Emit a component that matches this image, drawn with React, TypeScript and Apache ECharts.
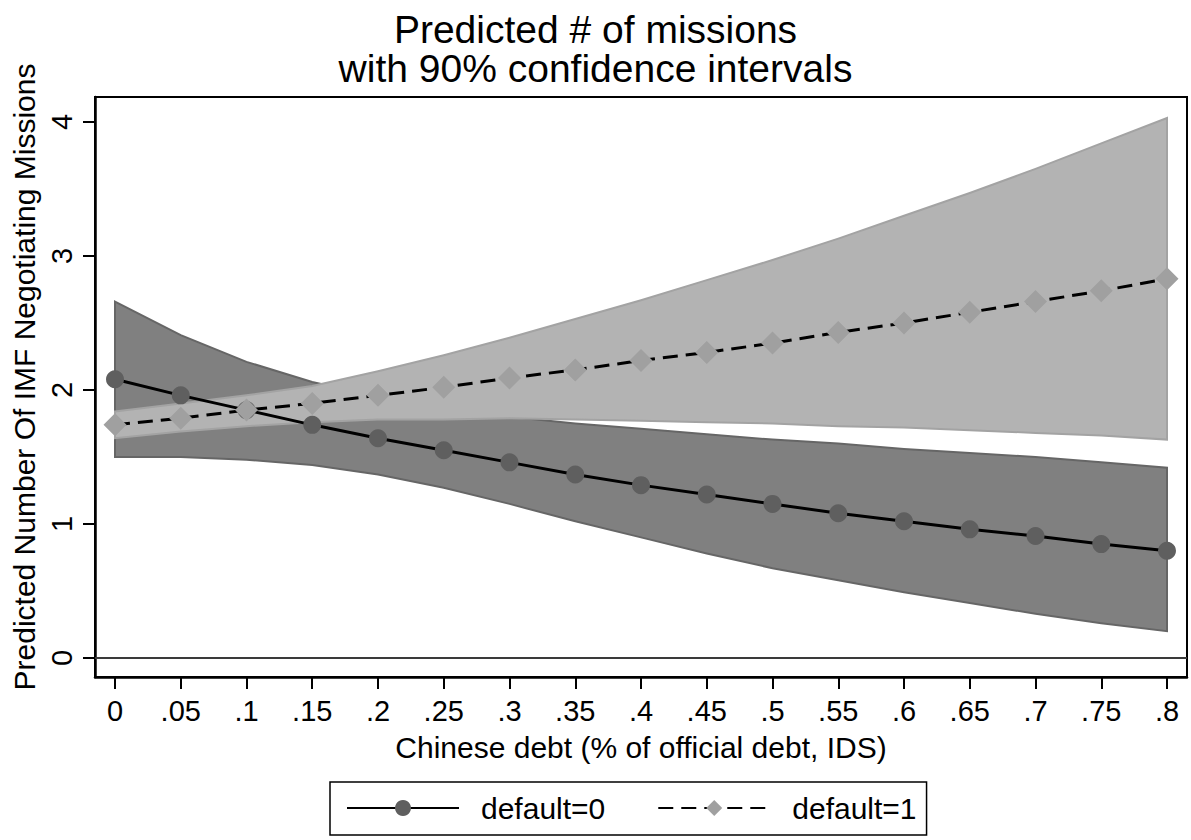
import React, { useEffect, useRef } from "react";
import * as echarts from "echarts";

// x values (share of Chinese debt in official debt)
const xValues = [0, 0.05, 0.1, 0.15, 0.2, 0.25, 0.3, 0.35, 0.4, 0.45, 0.5, 0.55, 0.6, 0.65, 0.7, 0.75, 0.8];

// default = 0
const pred0 = [2.08, 1.96, 1.85, 1.74, 1.64, 1.55, 1.46, 1.37, 1.29, 1.22, 1.15, 1.08, 1.02, 0.96, 0.91, 0.85, 0.8];
const upper0 = [2.66, 2.41, 2.21, 2.06, 1.95, 1.86, 1.8, 1.75, 1.71, 1.67, 1.63, 1.6, 1.56, 1.53, 1.5, 1.46, 1.42];
const lower0 = [1.5, 1.5, 1.48, 1.44, 1.37, 1.27, 1.15, 1.02, 0.9, 0.78, 0.67, 0.58, 0.49, 0.41, 0.33, 0.26, 0.2];

// default = 1
const pred1 = [1.74, 1.79, 1.85, 1.9, 1.96, 2.02, 2.09, 2.15, 2.22, 2.28, 2.35, 2.43, 2.5, 2.58, 2.66, 2.74, 2.83];
const upper1 = [1.84, 1.9, 1.96, 2.03, 2.14, 2.26, 2.39, 2.53, 2.67, 2.82, 2.97, 3.13, 3.3, 3.47, 3.65, 3.84, 4.03];
const lower1 = [1.64, 1.69, 1.73, 1.76, 1.78, 1.78, 1.79, 1.78, 1.77, 1.76, 1.75, 1.73, 1.72, 1.7, 1.68, 1.66, 1.63];

const xTicks = [0, 0.05, 0.1, 0.15, 0.2, 0.25, 0.3, 0.35, 0.4, 0.45, 0.5, 0.55, 0.6, 0.65, 0.7, 0.75, 0.8];
const yTicks = [0, 1, 2, 3, 4];

const seriesNames = ["default=0", "default=1"];
const titleLines = ["Predicted # of missions", "with 90% confidence intervals"];
const xTitle = "Chinese debt (% of official debt, IDS)";
const yTitle = "Predicted Number Of IMF Negotiating Missions";

const FONT = "'Liberation Sans', Arial, Helvetica, sans-serif";

function fmtX(v: number): string {
  if (Math.abs(v) < 1e-9) return "0";
  return v.toFixed(2).replace(/0+$/, "").replace(/^0/, "");
}

function bandSeries(upper: number[], lower: number[], fill: string, stroke: string, z: number) {
  return {
    type: "custom",
    silent: true,
    z,
    data: xValues.map((x, i) => [x, lower[i], upper[i]]),
    encode: { x: 0, y: [1, 2] },
    renderItem: (params: any, api: any) => {
      if (params.dataIndex !== 0) return null;
      const top = xValues.map((x, i) => api.coord([x, upper[i]]));
      const bottom = xValues.map((x, i) => api.coord([x, lower[i]])).reverse();
      return {
        type: "polygon",
        shape: { points: top.concat(bottom) },
        style: { fill, stroke, lineWidth: 2 },
      };
    },
  };
}

export default function App() {
  const ref = useRef<HTMLDivElement>(null);

  useEffect(() => {
    if (!ref.current) return;
    const chart = echarts.init(ref.current, null, { renderer: "svg" });

    const xMin = -20 / 1315;
    const xMax = 0.8 + 20 / 1315;
    const yMin = -19 / 134;
    const yMax = 4 + 25 / 134;

    chart.setOption({
      animation: false,
      backgroundColor: "#ffffff",
      textStyle: { fontFamily: FONT, color: "#000" },
      title: {
        text: titleLines.join("\n"),
        left: "center",
        top: 5,
        textStyle: { fontSize: 39, lineHeight: 39, fontWeight: "normal", color: "#000", fontFamily: FONT },
      },
      grid: {
        left: 95,
        top: 97,
        width: 1092,
        height: 580,
        show: true,
        borderColor: "#000",
        borderWidth: 2,
        backgroundColor: "#fff",
      },
      legend: {
        left: 330,
        top: 782,
        orient: "horizontal",
        data: seriesNames,
        itemWidth: 112,
        itemHeight: 20,
        itemGap: 52,
        padding: [11, 10, 12, 16],
        borderColor: "#000",
        borderWidth: 1.5,
        textStyle: { fontSize: 30, color: "#000", fontFamily: FONT, padding: [0, 0, 0, 17] },
      },
      xAxis: {
        type: "value",
        min: xMin,
        max: xMax,
        name: xTitle,
        nameLocation: "middle",
        nameGap: 55,
        nameTextStyle: { fontSize: 30, color: "#000", fontFamily: FONT },
        axisLine: { show: true, onZero: false, lineStyle: { color: "#000", width: 2.5 } },
        axisTick: { show: true, length: 12, lineStyle: { color: "#000", width: 2 }, customValues: xTicks },
        axisLabel: { fontSize: 29, color: "#000", margin: 19, formatter: fmtX, customValues: xTicks },
        splitLine: { show: false },
      },
      yAxis: {
        type: "value",
        min: yMin,
        max: yMax,
        name: yTitle,
        nameLocation: "middle",
        nameGap: 56,
        nameRotate: 90,
        nameTextStyle: { fontSize: 30, color: "#000", fontFamily: FONT, padding: [0, 0, 0, 20] },
        axisLine: { show: true, onZero: false, lineStyle: { color: "#000", width: 2.5 } },
        axisTick: { show: true, length: 12, lineStyle: { color: "#000", width: 2 }, customValues: yTicks },
        axisLabel: { fontSize: 29, color: "#000", margin: 19, rotate: 90, customValues: yTicks },
        splitLine: { show: false },
      },
      series: [
        bandSeries(upper0, lower0, "#808080", "#666666", 1),
        bandSeries(upper1, lower1, "#b3b3b3", "#a3a3a3", 2),
        {
          name: seriesNames[0],
          type: "line",
          z: 4,
          data: xValues.map((x, i) => [x, pred0[i]]),
          symbol: "circle",
          symbolSize: 18,
          showAllSymbol: true,
          itemStyle: { color: "#5f5f5f" },
          lineStyle: { color: "#000", width: 3 },
          markLine: {
            silent: true,
            symbol: "none",
            label: { show: false },
            lineStyle: { color: "#3a3a3a", width: 2, type: "solid" },
            data: [{ yAxis: 0 }],
          },
        },
        {
          name: seriesNames[1],
          type: "line",
          z: 5,
          data: xValues.map((x, i) => [x, pred1[i]]),
          symbol: "diamond",
          symbolSize: 23,
          showAllSymbol: true,
          itemStyle: { color: "#a0a0a0" },
          lineStyle: { color: "#000", width: 3, type: [15, 8] },
        },
      ],
    });

    return () => chart.dispose();
  }, []);

  return (
    <div
      ref={ref}
      style={{ position: "fixed", left: 0, top: 0, width: 1191, height: 840, background: "#fff" }}
    />
  );
}
